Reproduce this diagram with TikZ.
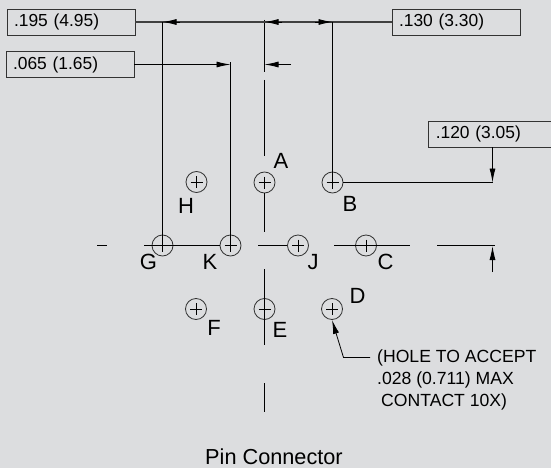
\documentclass[tikz,border=0pt]{standalone}
\usepackage{fontspec}
\setmainfont{Liberation Sans}
\usetikzlibrary{arrows.meta}
\definecolor{sheetgray}{HTML}{DCDDDF}
\definecolor{boxline}{HTML}{333333}
\tikzset{
	dimbox/.style={draw=boxline, line width=0.9pt, minimum height=26pt, text width=114pt, inner xsep=7pt, inner ysep=0pt, align=left, font=\fontsize{17.4}{20}\selectfont},
	hole/.style={draw=boxline, line width=0.8pt, circle, minimum size=21pt, inner sep=0pt},
	pinlabel/.style={anchor=base, inner sep=0pt, font=\fontsize{22}{26}\selectfont},
	dimline/.style={black, line width=0.9pt},
	dimtip/.style={dimline, -{Latex[length=14pt,width=6pt]}}
}

\begin{document}
\begin{tikzpicture}[x=1pt, y=-1pt]
	\fill[sheetgray] (0, 0) rectangle (551, 468);
	\useasboundingbox (0, 0) rectangle (551, 468);

	% dimension boxes
	\node[dimbox] (dimG) at (71, 22) {.195 (4.95)};
	\node[dimbox] (dimK) at (70, 64.5) {.065 (1.65)};
	\node[dimbox] (dimB) at (456, 22) {.130 (3.30)};
	\node[dimbox, text width=108.5pt] (dimH) at (490, 134) {.120 (3.05)};

	% holes
	\foreach \name/\x/\y in { A/264.5/182.5, B/332.5/182.5, H/196.5/182, G/162.5/245.5, K/230.5/245.5, J/298/245.5, C/366/245.5, F/196/309, E/264.5/309, D/332/309 } {
		\node[hole] (\name) at (\x, \y) {};
		\draw[line width=0.7pt] (\x-6, \y) -- (\x+6, \y) (\x, \y-6) -- (\x, \y+6);
	}

	% letters
	\foreach \name/\x/\y in { A/281/168, B/350/211, H/186/213, G/148.5/269, K/210/269, J/313/269.5, C/385.5/269, D/357.5/303, E/280/337, F/214/335 }
		\node[pinlabel] (label\name) at (\x, \y) {\name};

	% center lines
	\coordinate (topA) at (264.5, 20);
	\coordinate (gapA) at (264.5, 72);
	\coordinate (restartA) at (264.5, 80);
	\coordinate (stopA) at (264.5, 155.5);
	\coordinate (stopAE) at (264.5, 232);
	\coordinate (startE) at (264.5, 269);
	\coordinate (stopE) at (264.5, 345);
	\coordinate (startTail) at (264.5, 383);
	\coordinate (stopTail) at (264.5, 412);
	\draw[dimline] (topA) -- (gapA);
	\draw[dimline] (restartA) -- (stopA);
	\draw[dimline] (A) -- (stopAE);
	\draw[dimline] (startE) -- (stopE);
	\draw[dimline] (startTail) -- (stopTail);

	\coordinate (leftA) at (97, 245.5);
	\coordinate (leftB) at (107, 245.5);
	\coordinate (leftC) at (144, 245.5);
	\coordinate (midJ) at (258, 245.5);
	\coordinate (leftCC) at (334, 245.5);
	\coordinate (rightCC) at (410, 245.5);
	\coordinate (farL) at (437, 245.5);
	\coordinate (farR) at (495, 245.5);
	\draw[dimline] (leftA) -- (leftB);
	\draw[dimline] (leftC) -- (K);
	\draw[dimline] (midJ) -- (J);
	\draw[dimline] (leftCC) -- (rightCC);
	\draw[dimline] (farL) -- (farR);

	% extension lines
	\draw[dimline, line width=1.3pt, black!75] (dimG) -- (dimB);
	\draw[dimline] (G.center) -- (G |- dimG);
	\draw[dimline] (K.center) -- ([yshift=2pt]K |- dimK);
	\draw[dimline] (B.center) -- (B |- dimB);
	\coordinate (rightB) at (492.5, 182.5);
	\draw[dimline] (B) -- (rightB);

	% arrows
	\coordinate (tailG) at (180, 22);
	\coordinate (tailA) at (282, 22);
	\coordinate (tailB) at (315, 22);
	\coordinate (tipK) at (230.5, 64.5);
	\coordinate (tipA) at (264.5, 64.5);
	\coordinate (tailA2) at (291, 64.5);
	\coordinate (tipH) at (492.5, 246);
	\coordinate (tailH) at (492.5, 272);
	\draw[dimtip] (tailG) -- (G |- dimG);
	\draw[dimtip] (tailA) -- (topA |- dimG);
	\draw[dimtip] (tailB) -- (B |- dimB);
	\draw[dimtip] (dimK) -- (tipK);
	\draw[dimtip] (tailA2) -- (tipA);
	\draw[dimtip] (rightB |- dimH.south) -- (rightB);
	\draw[dimtip] (tailH) -- (tipH);

	% hole note
	\node[anchor=north west, inner sep=0pt, align=left, font=\fontsize{17.6}{22}\selectfont] (note) at (377, 350) {(HOLE TO ACCEPT\\.028 (0.711) MAX\\\hspace*{4pt}CONTACT 10X)};
	\coordinate (noteEnd) at (370, 357.5);
	\coordinate (noteBend) at (343.5, 357.5);
	\draw[dimtip, line width=0.8pt] (noteEnd) -- (noteBend) -- (D.south);

	\node[anchor=base, inner sep=0pt, font=\fontsize{21.7}{26}\selectfont] (title) at (274, 464) {Pin Connector};
\end{tikzpicture}
\end{document}
